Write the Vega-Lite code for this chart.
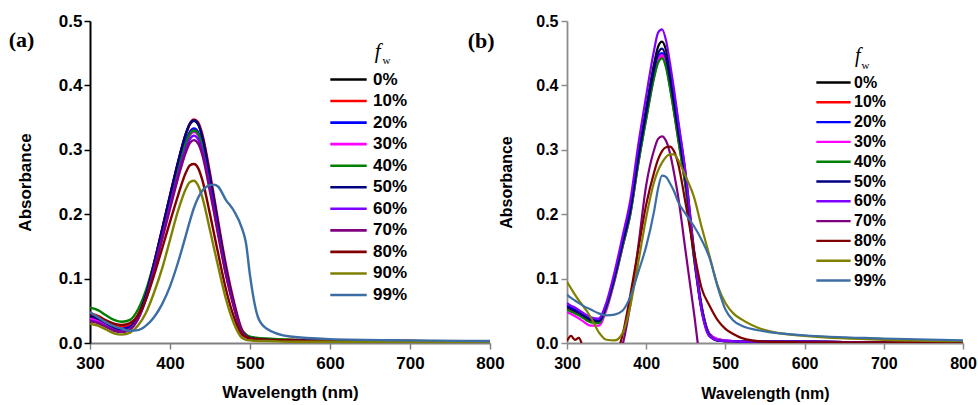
{
  "$schema": "https://vega.github.io/schema/vega-lite/v6.json",
  "background": "white",
  "padding": {"left": 8, "top": 12, "right": 5, "bottom": 5},
  "config": {
    "view": {"stroke": null},
    "font": "Liberation Sans",
    "axis": {
      "grid": false,
      "labelFont": "Liberation Sans",
      "labelFontWeight": "bold",
      "labelColor": "black",
      "labelFlush": false,
      "labelOverlap": false,
      "titleFont": "Liberation Sans",
      "titleFontWeight": "bold",
      "titleColor": "black"
    }
  },
  "datasets": {
    "uvA": [
      {"w": 300, "0%": 0.040, "10%": 0.046, "20%": 0.045, "30%": 0.038, "40%": 0.055, "50%": 0.042, "60%": 0.035, "70%": 0.034, "80%": 0.045, "90%": 0.030, "99%": 0.048},
      {"w": 310, "0%": 0.037, "10%": 0.042, "20%": 0.040, "30%": 0.034, "40%": 0.051, "50%": 0.038, "60%": 0.032, "70%": 0.031, "80%": 0.041, "90%": 0.027, "99%": 0.040},
      {"w": 320, "0%": 0.031, "10%": 0.035, "20%": 0.032, "30%": 0.028, "40%": 0.043, "50%": 0.031, "60%": 0.026, "70%": 0.025, "80%": 0.035, "90%": 0.021, "99%": 0.032},
      {"w": 330, "0%": 0.025, "10%": 0.029, "20%": 0.025, "30%": 0.022, "40%": 0.036, "50%": 0.024, "60%": 0.020, "70%": 0.019, "80%": 0.030, "90%": 0.015, "99%": 0.026},
      {"w": 340, "0%": 0.022, "10%": 0.026, "20%": 0.022, "30%": 0.019, "40%": 0.033, "50%": 0.020, "60%": 0.018, "70%": 0.017, "80%": 0.028, "90%": 0.013, "99%": 0.022},
      {"w": 350, "0%": 0.026, "10%": 0.029, "20%": 0.025, "30%": 0.022, "40%": 0.036, "50%": 0.024, "60%": 0.022, "70%": 0.021, "80%": 0.031, "90%": 0.016, "99%": 0.019},
      {"w": 360, "0%": 0.042, "10%": 0.044, "20%": 0.041, "30%": 0.038, "40%": 0.052, "50%": 0.041, "60%": 0.038, "70%": 0.037, "80%": 0.043, "90%": 0.027, "99%": 0.020},
      {"w": 370, "0%": 0.075, "10%": 0.076, "20%": 0.072, "30%": 0.071, "40%": 0.082, "50%": 0.075, "60%": 0.070, "70%": 0.068, "80%": 0.068, "90%": 0.047, "99%": 0.027},
      {"w": 380, "0%": 0.123, "10%": 0.124, "20%": 0.119, "30%": 0.117, "40%": 0.124, "50%": 0.123, "60%": 0.115, "70%": 0.112, "80%": 0.105, "90%": 0.078, "99%": 0.040},
      {"w": 390, "0%": 0.175, "10%": 0.176, "20%": 0.169, "30%": 0.166, "40%": 0.171, "50%": 0.176, "60%": 0.163, "70%": 0.160, "80%": 0.146, "90%": 0.115, "99%": 0.060},
      {"w": 400, "0%": 0.228, "10%": 0.229, "20%": 0.220, "30%": 0.217, "40%": 0.220, "50%": 0.229, "60%": 0.213, "70%": 0.208, "80%": 0.188, "90%": 0.160, "99%": 0.088},
      {"w": 410, "0%": 0.280, "10%": 0.280, "20%": 0.270, "30%": 0.266, "40%": 0.268, "50%": 0.281, "60%": 0.261, "70%": 0.256, "80%": 0.229, "90%": 0.205, "99%": 0.125},
      {"w": 420, "0%": 0.325, "10%": 0.325, "20%": 0.314, "30%": 0.309, "40%": 0.311, "50%": 0.326, "60%": 0.303, "70%": 0.297, "80%": 0.265, "90%": 0.240, "99%": 0.168},
      {"w": 425, "0%": 0.340, "10%": 0.341, "20%": 0.328, "30%": 0.323, "40%": 0.325, "50%": 0.341, "60%": 0.317, "70%": 0.311, "80%": 0.276, "90%": 0.250, "99%": 0.190},
      {"w": 430, "0%": 0.345, "10%": 0.347, "20%": 0.333, "30%": 0.328, "40%": 0.330, "50%": 0.346, "60%": 0.322, "70%": 0.315, "80%": 0.278, "90%": 0.252, "99%": 0.210},
      {"w": 435, "0%": 0.340, "10%": 0.343, "20%": 0.328, "30%": 0.323, "40%": 0.325, "50%": 0.341, "60%": 0.317, "70%": 0.310, "80%": 0.272, "90%": 0.245, "99%": 0.225},
      {"w": 440, "0%": 0.322, "10%": 0.326, "20%": 0.311, "30%": 0.306, "40%": 0.308, "50%": 0.323, "60%": 0.300, "70%": 0.294, "80%": 0.255, "90%": 0.228, "99%": 0.236},
      {"w": 450, "0%": 0.258, "10%": 0.264, "20%": 0.249, "30%": 0.245, "40%": 0.247, "50%": 0.259, "60%": 0.241, "70%": 0.235, "80%": 0.200, "90%": 0.175, "99%": 0.245},
      {"w": 455, "0%": 0.222, "10%": 0.228, "20%": 0.214, "30%": 0.211, "40%": 0.213, "50%": 0.223, "60%": 0.207, "70%": 0.203, "80%": 0.170, "90%": 0.147, "99%": 0.246},
      {"w": 460, "0%": 0.185, "10%": 0.191, "20%": 0.179, "30%": 0.176, "40%": 0.178, "50%": 0.186, "60%": 0.173, "70%": 0.169, "80%": 0.140, "90%": 0.120, "99%": 0.243},
      {"w": 470, "0%": 0.115, "10%": 0.121, "20%": 0.111, "30%": 0.109, "40%": 0.111, "50%": 0.116, "60%": 0.107, "70%": 0.105, "80%": 0.083, "90%": 0.068, "99%": 0.222},
      {"w": 480, "0%": 0.060, "10%": 0.064, "20%": 0.058, "30%": 0.057, "40%": 0.059, "50%": 0.060, "60%": 0.056, "70%": 0.055, "80%": 0.040, "90%": 0.030, "99%": 0.205},
      {"w": 490, "0%": 0.018, "10%": 0.021, "20%": 0.017, "30%": 0.017, "40%": 0.019, "50%": 0.018, "60%": 0.017, "70%": 0.016, "80%": 0.013, "90%": 0.008, "99%": 0.178},
      {"w": 495, "0%": 0.011, "10%": 0.013, "20%": 0.011, "30%": 0.011, "40%": 0.013, "50%": 0.011, "60%": 0.010, "70%": 0.010, "80%": 0.009, "90%": 0.005, "99%": 0.155},
      {"w": 500, "0%": 0.008, "10%": 0.009, "20%": 0.008, "30%": 0.008, "40%": 0.010, "50%": 0.008, "60%": 0.007, "70%": 0.007, "80%": 0.007, "90%": 0.004, "99%": 0.105},
      {"w": 510, "0%": 0.006, "10%": 0.007, "20%": 0.006, "30%": 0.006, "40%": 0.008, "50%": 0.006, "60%": 0.005, "70%": 0.005, "80%": 0.006, "90%": 0.003, "99%": 0.040},
      {"w": 520, "0%": 0.005, "10%": 0.006, "20%": 0.005, "30%": 0.005, "40%": 0.007, "50%": 0.005, "60%": 0.004, "70%": 0.004, "80%": 0.005, "90%": 0.003, "99%": 0.023},
      {"w": 550, "0%": 0.004, "10%": 0.005, "20%": 0.004, "30%": 0.004, "40%": 0.005, "50%": 0.004, "60%": 0.003, "70%": 0.003, "80%": 0.004, "90%": 0.002, "99%": 0.010},
      {"w": 600, "0%": 0.003, "10%": 0.004, "20%": 0.003, "30%": 0.003, "40%": 0.004, "50%": 0.003, "60%": 0.003, "70%": 0.003, "80%": 0.003, "90%": 0.002, "99%": 0.006},
      {"w": 700, "0%": 0.002, "10%": 0.003, "20%": 0.002, "30%": 0.002, "40%": 0.003, "50%": 0.002, "60%": 0.002, "70%": 0.002, "80%": 0.003, "90%": 0.002, "99%": 0.004},
      {"w": 800, "0%": 0.002, "10%": 0.002, "20%": 0.002, "30%": 0.002, "40%": 0.002, "50%": 0.002, "60%": 0.002, "70%": 0.002, "80%": 0.002, "90%": 0.001, "99%": 0.003}
    ],
    "uvB": [
      {"w": 300, "0%": 0.055, "10%": 0.053, "20%": 0.058, "30%": 0.048, "40%": 0.052, "50%": 0.056, "60%": 0.062, "70%": -0.05, "80%": 0.003, "90%": 0.095, "99%": 0.075},
      {"w": 305, "0%": 0.052, "10%": 0.050, "20%": 0.055, "30%": 0.045, "40%": 0.049, "50%": 0.053, "60%": 0.058, "70%": -0.05, "80%": 0.011, "90%": 0.085, "99%": 0.070},
      {"w": 310, "0%": 0.049, "10%": 0.047, "20%": 0.052, "30%": 0.042, "40%": 0.046, "50%": 0.050, "60%": 0.055, "70%": -0.05, "80%": 0.005, "90%": 0.075, "99%": 0.066},
      {"w": 315, "0%": 0.046, "10%": 0.044, "20%": 0.048, "30%": 0.038, "40%": 0.043, "50%": 0.047, "60%": 0.051, "70%": -0.05, "80%": 0.008, "90%": 0.066, "99%": 0.062},
      {"w": 320, "0%": 0.042, "10%": 0.040, "20%": 0.044, "30%": 0.034, "40%": 0.039, "50%": 0.043, "60%": 0.047, "70%": -0.05, "80%": -0.006, "90%": 0.058, "99%": 0.058},
      {"w": 330, "0%": 0.035, "10%": 0.033, "20%": 0.037, "30%": 0.027, "40%": 0.032, "50%": 0.036, "60%": 0.040, "70%": -0.05, "80%": -0.03, "90%": 0.040, "99%": 0.052},
      {"w": 340, "0%": 0.034, "10%": 0.032, "20%": 0.035, "30%": 0.027, "40%": 0.031, "50%": 0.034, "60%": 0.038, "70%": -0.05, "80%": -0.04, "90%": 0.017, "99%": 0.046},
      {"w": 350, "0%": 0.060, "10%": 0.057, "20%": 0.060, "30%": 0.052, "40%": 0.056, "50%": 0.059, "60%": 0.064, "70%": -0.05, "80%": -0.04, "90%": 0.005, "99%": 0.043},
      {"w": 360, "0%": 0.104, "10%": 0.099, "20%": 0.102, "30%": 0.096, "40%": 0.098, "50%": 0.102, "60%": 0.110, "70%": -0.04, "80%": -0.025, "90%": 0.004, "99%": 0.044},
      {"w": 370, "0%": 0.157, "10%": 0.150, "20%": 0.153, "30%": 0.148, "40%": 0.149, "50%": 0.154, "60%": 0.165, "70%": -0.004, "80%": 0.012, "90%": 0.015, "99%": 0.050},
      {"w": 380, "0%": 0.211, "10%": 0.202, "20%": 0.205, "30%": 0.200, "40%": 0.200, "50%": 0.207, "60%": 0.222, "70%": 0.060, "80%": 0.075, "90%": 0.058, "99%": 0.072},
      {"w": 390, "0%": 0.292, "10%": 0.280, "20%": 0.284, "30%": 0.279, "40%": 0.278, "50%": 0.287, "60%": 0.308, "70%": 0.150, "80%": 0.145, "90%": 0.125, "99%": 0.110},
      {"w": 400, "0%": 0.365, "10%": 0.349, "20%": 0.354, "30%": 0.350, "40%": 0.347, "50%": 0.358, "60%": 0.384, "70%": 0.245, "80%": 0.215, "90%": 0.195, "99%": 0.150},
      {"w": 410, "0%": 0.434, "10%": 0.414, "20%": 0.420, "30%": 0.417, "40%": 0.412, "50%": 0.425, "60%": 0.455, "70%": 0.300, "80%": 0.265, "90%": 0.250, "99%": 0.205},
      {"w": 415, "0%": 0.460, "10%": 0.437, "20%": 0.443, "30%": 0.440, "40%": 0.435, "50%": 0.450, "60%": 0.482, "70%": 0.317, "80%": 0.285, "90%": 0.268, "99%": 0.240},
      {"w": 420, "0%": 0.468, "10%": 0.445, "20%": 0.450, "30%": 0.447, "40%": 0.442, "50%": 0.457, "60%": 0.487, "70%": 0.321, "80%": 0.298, "90%": 0.280, "99%": 0.260},
      {"w": 425, "0%": 0.455, "10%": 0.430, "20%": 0.436, "30%": 0.433, "40%": 0.428, "50%": 0.443, "60%": 0.470, "70%": 0.314, "80%": 0.304, "90%": 0.289, "99%": 0.258},
      {"w": 430, "0%": 0.425, "10%": 0.398, "20%": 0.404, "30%": 0.401, "40%": 0.396, "50%": 0.411, "60%": 0.435, "70%": 0.295, "80%": 0.305, "90%": 0.293, "99%": 0.248},
      {"w": 435, "0%": 0.388, "10%": 0.360, "20%": 0.366, "30%": 0.363, "40%": 0.359, "50%": 0.373, "60%": 0.395, "70%": 0.265, "80%": 0.298, "90%": 0.293, "99%": 0.236},
      {"w": 440, "0%": 0.345, "10%": 0.320, "20%": 0.326, "30%": 0.323, "40%": 0.319, "50%": 0.332, "60%": 0.350, "70%": 0.230, "80%": 0.280, "90%": 0.285, "99%": 0.220},
      {"w": 450, "0%": 0.260, "10%": 0.240, "20%": 0.246, "30%": 0.243, "40%": 0.240, "50%": 0.250, "60%": 0.262, "70%": 0.140, "80%": 0.215, "90%": 0.258, "99%": 0.200},
      {"w": 460, "0%": 0.148, "10%": 0.135, "20%": 0.140, "30%": 0.138, "40%": 0.136, "50%": 0.141, "60%": 0.145, "70%": 0.050, "80%": 0.145, "90%": 0.228, "99%": 0.182},
      {"w": 470, "0%": 0.058, "10%": 0.050, "20%": 0.055, "30%": 0.054, "40%": 0.052, "50%": 0.053, "60%": 0.050, "70%": -0.035, "80%": 0.085, "90%": 0.180, "99%": 0.160},
      {"w": 480, "0%": 0.013, "10%": 0.011, "20%": 0.014, "30%": 0.014, "40%": 0.012, "50%": 0.012, "60%": 0.010, "70%": -0.05, "80%": 0.058, "90%": 0.135, "99%": 0.132},
      {"w": 490, "0%": 0.004, "10%": 0.004, "20%": 0.006, "30%": 0.006, "40%": 0.004, "50%": 0.004, "60%": 0.004, "70%": -0.05, "80%": 0.036, "90%": 0.090, "99%": 0.088},
      {"w": 500, "0%": 0.003, "10%": 0.003, "20%": 0.004, "30%": 0.004, "40%": 0.003, "50%": 0.003, "60%": 0.003, "70%": -0.05, "80%": 0.022, "90%": 0.062, "99%": 0.052},
      {"w": 510, "0%": 0.003, "10%": 0.003, "20%": 0.003, "30%": 0.003, "40%": 0.003, "50%": 0.003, "60%": 0.003, "70%": -0.05, "80%": 0.014, "90%": 0.046, "99%": 0.035},
      {"w": 520, "0%": 0.002, "10%": 0.002, "20%": 0.003, "30%": 0.003, "40%": 0.002, "50%": 0.002, "60%": 0.002, "70%": -0.05, "80%": 0.008, "90%": 0.037, "99%": 0.027},
      {"w": 550, "0%": 0.002, "10%": 0.002, "20%": 0.002, "30%": 0.002, "40%": 0.002, "50%": 0.002, "60%": 0.002, "70%": -0.05, "80%": 0.002, "90%": 0.020, "99%": 0.018},
      {"w": 600, "0%": 0.002, "10%": 0.002, "20%": 0.002, "30%": 0.002, "40%": 0.002, "50%": 0.002, "60%": 0.002, "70%": -0.05, "80%": 0.001, "90%": 0.011, "99%": 0.012},
      {"w": 700, "0%": 0.001, "10%": 0.001, "20%": 0.001, "30%": 0.001, "40%": 0.001, "50%": 0.001, "60%": 0.001, "70%": -0.05, "80%": 0.001, "90%": 0.005, "99%": 0.007},
      {"w": 800, "0%": 0.001, "10%": 0.001, "20%": 0.001, "30%": 0.001, "40%": 0.001, "50%": 0.001, "60%": 0.001, "70%": -0.05, "80%": 0.001, "90%": 0.003, "99%": 0.004}
    ]
  },
  "hconcat": [
    {
      "width": 400,
      "height": 322,
      "layer": [
        {
          "data": {"name": "uvA"},
          "transform": [{"fold": ["0%", "10%", "20%", "30%", "40%", "50%", "60%", "70%", "80%", "90%", "99%"], "as": ["fw", "A"]}],
          "mark": {"type": "line", "clip": true, "strokeWidth": 2.4, "interpolate": "monotone"},
          "encoding": {
            "x": {
              "field": "w", "type": "quantitative",
              "scale": {"domain": [300, 800], "nice": false},
              "axis": {
                "title": "Wavelength (nm)",
                "values": [300, 350, 400, 450, 500, 550, 600, 650, 700, 750, 800],
                "labelExpr": "datum.value % 100 === 0 ? datum.label : ''",
                "tickSize": {"condition": {"test": "datum.value % 100 === 0", "value": 6}, "value": 3},
                "domainColor": "#808080", "domainWidth": 1.8, "tickColor": "#808080", "tickWidth": 1.5,
                "labelFontSize": 17, "labelPadding": 6, "titleFontSize": 17, "titlePadding": 13
              }
            },
            "y": {
              "field": "A", "type": "quantitative",
              "scale": {"domain": [0, 0.5], "nice": false, "zero": false},
              "axis": {
                "title": "Absorbance",
                "values": [0, 0.05, 0.1, 0.15, 0.2, 0.25, 0.3, 0.35, 0.4, 0.45, 0.5],
                "labelExpr": "round(datum.value * 100) % 10 === 0 ? format(datum.value, '.1f') : ''",
                "tickSize": {"condition": {"test": "round(datum.value * 100) % 10 === 0", "value": 6}, "value": 3},
                "domainColor": "black", "domainWidth": 2, "tickColor": "black", "tickWidth": 1.5,
                "labelFontSize": 17, "labelPadding": 2, "titleFontSize": 17, "titlePadding": 24
              }
            },
            "color": {
              "field": "fw", "type": "nominal",
              "scale": {
                "domain": ["0%", "10%", "20%", "30%", "40%", "50%", "60%", "70%", "80%", "90%", "99%"],
                "range": ["#000000", "#ff0000", "#0000ff", "#ff00ff", "#008000", "#000080", "#8000ff", "#800080", "#800000", "#808000", "#3c6ea5"]
              },
              "legend": {
                "orient": "none", "legendX": 250, "legendY": 50, "title": null, "padding": 0,
                "symbolType": "M-2.6,0H2.6", "symbolSize": 196, "symbolStrokeWidth": 2.6, "symbolOffset": 0,
                "labelFont": "Liberation Sans", "labelFontSize": 17, "labelFontWeight": "bold", "labelColor": "black",
                "labelOffset": 16, "rowPadding": 3.55
              }
            }
          }
        },
        {
          "data": {"values": [{}]},
          "mark": {"type": "text", "font": "Liberation Serif", "fontWeight": "bold", "fontSize": 22, "align": "center", "baseline": "middle", "color": "black"},
          "encoding": {"x": {"datum": 214.4}, "y": {"datum": 0.47}, "text": {"value": "(a)"}}
        },
        {
          "data": {"values": [{}]},
          "mark": {"type": "text", "font": "Liberation Serif", "fontStyle": "italic", "fontSize": 21, "align": "center", "baseline": "alphabetic", "color": "black"},
          "encoding": {"x": {"datum": 659.5}, "y": {"datum": 0.443}, "text": {"value": "f"}}
        },
        {
          "data": {"values": [{}]},
          "mark": {"type": "text", "font": "Liberation Serif", "fontSize": 11, "align": "left", "baseline": "alphabetic", "color": "black"},
          "encoding": {"x": {"datum": 665.5}, "y": {"datum": 0.434}, "text": {"value": "w"}}
        }
      ]
    },
    {
      "width": 396,
      "height": 322,
      "layer": [
        {
          "data": {"name": "uvB"},
          "transform": [{"fold": ["0%", "10%", "20%", "30%", "40%", "50%", "60%", "70%", "80%", "90%", "99%"], "as": ["fw", "A"]}],
          "mark": {"type": "line", "clip": true, "strokeWidth": 2.2, "interpolate": "monotone"},
          "encoding": {
            "x": {
              "field": "w", "type": "quantitative",
              "scale": {"domain": [300, 800], "nice": false},
              "axis": {
                "title": "Wavelength (nm)",
                "values": [300, 350, 400, 450, 500, 550, 600, 650, 700, 750, 800],
                "labelExpr": "datum.value % 100 === 0 ? datum.label : ''",
                "tickSize": {"condition": {"test": "datum.value % 100 === 0", "value": 6}, "value": 3},
                "domainColor": "#8c8c8c", "domainWidth": 1.8, "tickColor": "#8c8c8c", "tickWidth": 1.5,
                "labelFontSize": 16, "labelPadding": 6, "titleFontSize": 16, "titlePadding": 14
              }
            },
            "y": {
              "field": "A", "type": "quantitative",
              "scale": {"domain": [0, 0.5], "nice": false, "zero": false},
              "axis": {
                "title": "Absorbance",
                "values": [0, 0.05, 0.1, 0.15, 0.2, 0.25, 0.3, 0.35, 0.4, 0.45, 0.5],
                "labelExpr": "round(datum.value * 100) % 10 === 0 ? format(datum.value, '.1f') : ''",
                "tickSize": {"condition": {"test": "round(datum.value * 100) % 10 === 0", "value": 6}, "value": 3},
                "domainColor": "#8c8c8c", "domainWidth": 1.8, "tickColor": "#8c8c8c", "tickWidth": 1.5,
                "labelFontSize": 16, "labelPadding": 3, "titleFontSize": 16, "titlePadding": 21
              }
            },
            "color": {
              "field": "fw", "type": "nominal",
              "scale": {
                "domain": ["0%", "10%", "20%", "30%", "40%", "50%", "60%", "70%", "80%", "90%", "99%"],
                "range": ["#000000", "#ff0000", "#0000ff", "#ff00ff", "#008000", "#000080", "#8000ff", "#800080", "#800000", "#808000", "#3c6ea5"]
              },
              "legend": {
                "orient": "none", "legendX": 258, "legendY": 53, "title": null, "padding": 0,
                "symbolType": "M-2.45,0H2.45", "symbolSize": 196, "symbolStrokeWidth": 2.4, "symbolOffset": 0,
                "labelFont": "Liberation Sans", "labelFontSize": 16, "labelFontWeight": "bold", "labelColor": "black",
                "labelOffset": 12, "rowPadding": 2.8
              }
            }
          }
        },
        {
          "data": {"values": [{}]},
          "mark": {"type": "text", "font": "Liberation Serif", "fontWeight": "bold", "fontSize": 22, "align": "center", "baseline": "middle", "color": "black"},
          "encoding": {"x": {"datum": 191.6}, "y": {"datum": 0.469}, "text": {"value": "(b)"}}
        },
        {
          "data": {"values": [{}]},
          "mark": {"type": "text", "font": "Liberation Serif", "fontStyle": "italic", "fontSize": 20, "align": "center", "baseline": "alphabetic", "color": "black"},
          "encoding": {"x": {"datum": 667}, "y": {"datum": 0.436}, "text": {"value": "f"}}
        },
        {
          "data": {"values": [{}]},
          "mark": {"type": "text", "font": "Liberation Serif", "fontSize": 11, "align": "left", "baseline": "alphabetic", "color": "black"},
          "encoding": {"x": {"datum": 672}, "y": {"datum": 0.426}, "text": {"value": "w"}}
        }
      ]
    }
  ],
  "spacing": 77,
  "bounds": "flush",
  "resolve": {"scale": {"color": "independent"}, "legend": {"color": "independent"}}
}
